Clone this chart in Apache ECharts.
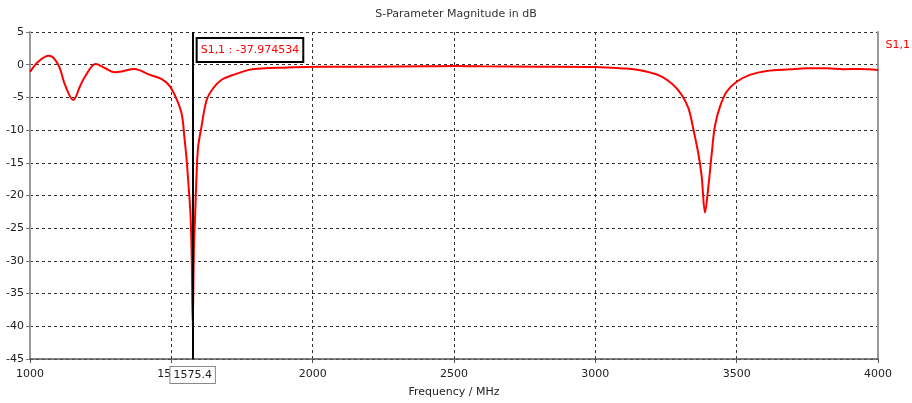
<!DOCTYPE html>
<html><head><meta charset="utf-8">
<script src="https://cdn.jsdelivr.net/npm/echarts@6/dist/echarts.min.js"></script>
<style>html,body{margin:0;padding:0;background:#fff}#c{width:912px;height:403px}</style>
</head><body><div id="c"></div>
<script>
var freq = [1000, 1030, 1067, 1100, 1124, 1153, 1177, 1195, 1232, 1265, 1300, 1324, 1369, 1424, 1466, 1495, 1519, 1537, 1546, 1554, 1562, 1568, 1572, 1575.5, 1580, 1584, 1590, 1595, 1607, 1625, 1648, 1678, 1719, 1778, 1830, 1896, 2014, 2200, 2400, 2500, 2600, 2800, 3000, 3087, 3158, 3229, 3276, 3305, 3329, 3347, 3364, 3376, 3388, 3400, 3412, 3423, 3441, 3465, 3500, 3547, 3606, 3689, 3748, 3818, 3877, 3936, 4000];
var s11 = [-1.1, 0.5, 1.35, 0, -3.1, -5.4, -3.3, -1.8, 0.1, -0.5, -1.15, -1.05, -0.64, -1.55, -2.2, -3.3, -5.3, -7.6, -11, -14.5, -19.1, -23.1, -29.2, -39.9, -28.2, -23.2, -16, -12.5, -9.4, -5.4, -3.6, -2.3, -1.55, -0.75, -0.55, -0.45, -0.3, -0.3, -0.25, -0.2, -0.25, -0.3, -0.35, -0.55, -0.85, -1.7, -3.1, -4.6, -6.6, -9.9, -13.5, -17, -22.6, -18.6, -13.5, -9.4, -6.4, -4.1, -2.6, -1.55, -0.95, -0.7, -0.55, -0.55, -0.7, -0.65, -0.8];
var markerFreq = 1575.4;
var markerValue = -37.974534;
var markerLabelY = 2.25;
var xTicks = [1000, 4000, 500];
var yTicks = [-45, 5, 5];

var FONT = 'DejaVu Sans';
var chart = echarts.init(document.getElementById('c'));
var pts = freq.map(function (f, i) { return [f, s11[i]]; });
chart.setOption({
  animation: false,
  title: { text: 'S-Parameter Magnitude in dB', left: 'center', top: 4,
    textStyle: { fontFamily: FONT, fontSize: 11, fontWeight: 'normal', color: '#333' } },
  legend: { right: 2, top: 38, padding: 0, icon: 'none', itemWidth: 0, itemGap: 0,
    data: ['S1,1'], textStyle: { fontFamily: FONT, fontSize: 11, color: '#ff0000', padding: 0 } },
  grid: { left: 30, right: 34, top: 32, bottom: 43 },
  xAxis: {
    type: 'value', min: xTicks[0], max: xTicks[1], interval: xTicks[2],
    name: 'Frequency / MHz', nameLocation: 'middle', nameGap: 28,
    nameTextStyle: { fontFamily: FONT, fontSize: 11, color: '#222' },
    axisLine: { show: true, onZero: false, lineStyle: { color: '#555', width: 1.5 } },
    axisTick: { show: true, length: 4, lineStyle: { color: '#555' } },
    axisLabel: { fontFamily: FONT, fontSize: 11, color: '#222', margin: 10,
      formatter: function (v) { return String(v); } },
    splitLine: { show: true, lineStyle: { color: '#333', type: [3, 3], width: 1 } }
  },
  yAxis: [{
    type: 'value', min: yTicks[0], max: yTicks[1], interval: yTicks[2],
    axisLine: { show: true, lineStyle: { color: '#999', width: 2 } },
    axisTick: { show: true, length: 4, lineStyle: { color: '#777' } },
    axisLabel: { fontFamily: FONT, fontSize: 11, color: '#222', margin: 6 },
    splitLine: { show: true, lineStyle: { color: '#333', type: [3, 3], width: 1 } }
  }, {
    type: 'value', min: yTicks[0], max: yTicks[1], interval: yTicks[2], position: 'right',
    axisLine: { show: true, lineStyle: { color: '#999', width: 2 } },
    axisTick: { show: false }, axisLabel: { show: false }, splitLine: { show: false }
  }],
  series: [{
    name: 'S1,1', type: 'line', data: pts, showSymbol: false, symbol: 'none',
    smooth: 0.35,
    lineStyle: { color: '#ff0000', width: 2 }, itemStyle: { color: '#ff0000' },
    markLine: {
      symbol: 'none', silent: true,
      lineStyle: { color: '#000', width: 2, type: 'solid' },
      label: { show: true, position: 'start', distance: 8, formatter: String(markerFreq),
        fontFamily: FONT, fontSize: 11, color: '#222', backgroundColor: '#fff',
        borderColor: '#888', borderWidth: 1, padding: [3, 3, 2, 3] },
      data: [{ xAxis: markerFreq }]
    },
    markPoint: {
      symbol: 'circle', symbolSize: 0, silent: true,
      label: { show: true, position: 'right', distance: 5,
        formatter: 'S1,1 : ' + markerValue.toFixed(6),
        fontFamily: FONT, fontSize: 11, color: '#ff0000', backgroundColor: '#fff',
        borderColor: '#000', borderWidth: 2, padding: [6, 3, 5, 3] },
      data: [{ coord: [markerFreq, markerLabelY] }]
    }
  }]
});
</script></body></html>
